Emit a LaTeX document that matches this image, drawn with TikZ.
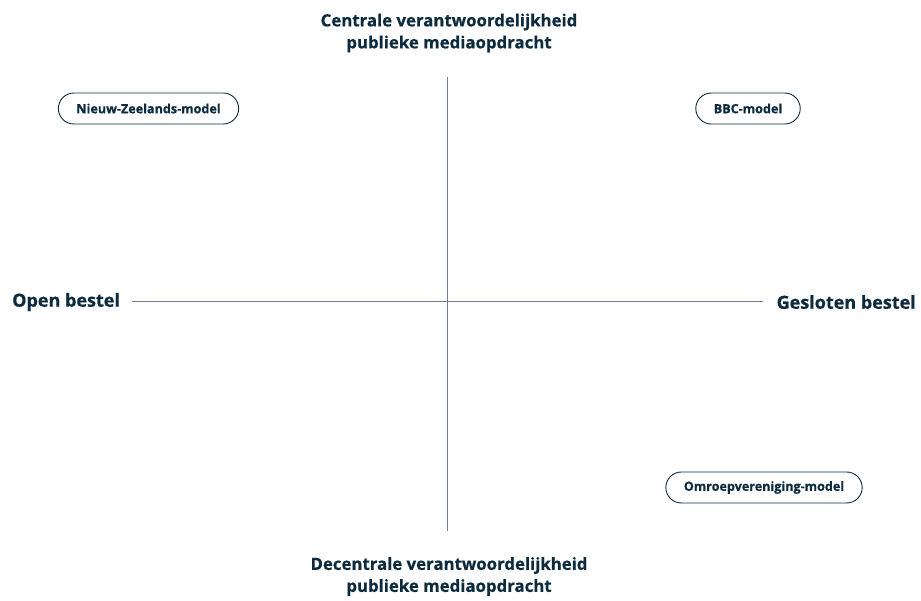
\documentclass[tikz,border=0pt]{standalone}
\usepackage{fontspec}
\setmainfont{Open Sans}[BoldFeatures={FakeBold=0.6}]
\definecolor{ink}{HTML}{0D2B3E}
\definecolor{axis}{HTML}{6E7C99}
\begin{document}
\begin{tikzpicture}[x=1pt,y=-1pt,
  axislabel/.style={text=ink,font=\fontsize{16.8}{22}\selectfont\bfseries,align=center,inner sep=0pt},
  sidelabel/.style={text=ink,font=\fontsize{18}{22}\selectfont\bfseries,inner sep=0pt},
  pill/.style={draw=ink,line width=0.9pt,rounded corners=15.5pt,minimum height=31pt,inner xsep=18pt,
    text=ink,font=\fontsize{12.6}{14}\selectfont\bfseries},
  axisline/.style={draw=axis,line width=0.9pt}]
\useasboundingbox (0,0) rectangle (921,601);
% axes
\coordinate (vtop) at (447,77);
\coordinate (vbot) at (447,531);
\coordinate (hleft) at (132,301);
\coordinate (hright) at (763,301);
\draw[axisline] (vtop) -- (vbot);
\draw[axisline] (hleft) -- (hright);
% axis labels
\node[axislabel] (top) at (449,33) {Centrale verantwoordelijkheid\\publieke mediaopdracht};
\node[axislabel] (bottom) at (449,576.5) {Decentrale verantwoordelijkheid\\publieke mediaopdracht};
\node[sidelabel,anchor=west] (left) at (12,302) {Open bestel};
\node[sidelabel,anchor=east] (right) at (916,302) {Gesloten bestel};
% models
\node[pill] (nz) at (148.5,108.5) {Nieuw-Zeelands-model};
\node[pill] (bbc) at (748,108.5) {BBC-model};
\node[pill] (omroep) at (764,487.5) {Omroepvereniging-model};
\end{tikzpicture}
\end{document}
